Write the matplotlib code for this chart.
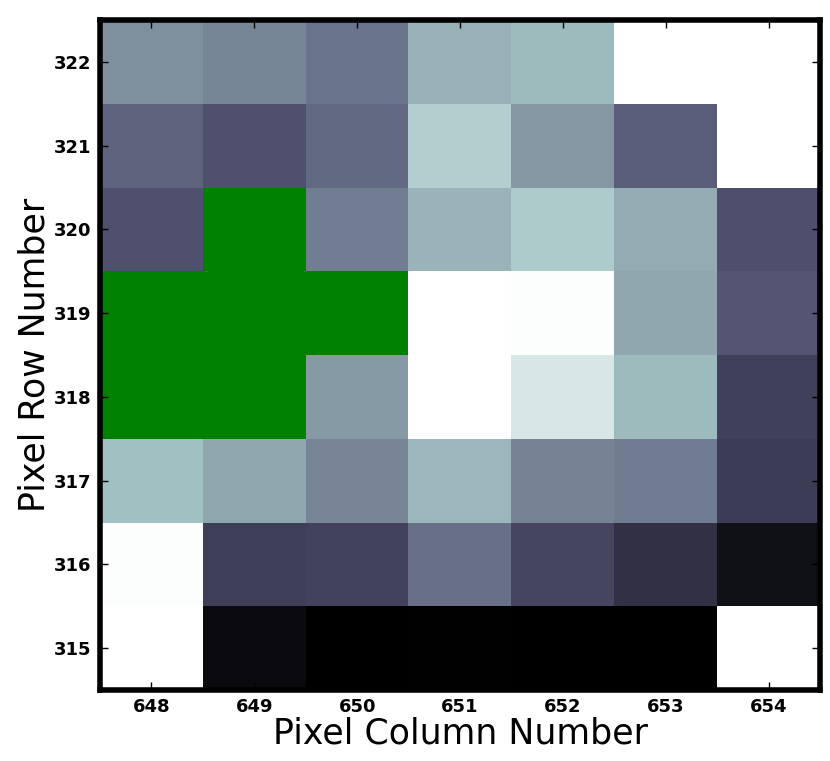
import numpy as np
import matplotlib
matplotlib.use("Agg")
import matplotlib.pyplot as plt

columns = [648, 649, 650, 651, 652, 653, 654]
rows = [315, 316, 317, 318, 319, 320, 321, 322]

# normalized flux per pixel (rows listed bottom 315 -> top 322); None = aperture pixel
flux_315 = [1.00, 0.049, 0.00, 0.01, 0.00, 0.00, 1.00]
flux_316 = [0.99, 0.278, 0.300, 0.466, 0.314, 0.219, 0.076]
flux_317 = [0.726, 0.641, 0.533, 0.699, 0.529, 0.506, 0.273]
flux_318 = [None, None, 0.605, 1.00, 0.888, 0.704, 0.291]
flux_319 = [None, None, None, 1.00, 0.99, 0.645, 0.376]
flux_320 = [0.358, None, 0.511, 0.686, 0.768, 0.663, 0.354]
flux_321 = [0.421, 0.358, 0.444, 0.785, 0.597, 0.403, 1.00]
flux_322 = [0.569, 0.538, 0.475, 0.677, 0.704, 1.00, 1.00]

grid = [flux_315, flux_316, flux_317, flux_318, flux_319, flux_320, flux_321, flux_322]
data = np.array([[np.nan if v is None else v for v in r] for r in grid], dtype=float)
data = np.ma.masked_invalid(data)

cmap = plt.get_cmap("bone").copy()
cmap.set_bad("#008000")

fig = plt.figure(figsize=(8.3, 7.61), dpi=100)
ax = fig.add_axes([100/830, 1 - 690/761, 720/830, 670/761])
ax.imshow(data, cmap=cmap, vmin=0, vmax=1, origin="lower", aspect="auto",
          interpolation="nearest",
          extent=[columns[0] - 0.5, columns[-1] + 0.5, rows[0] - 0.5, rows[-1] + 0.5])

ax.set_xticks(columns)
ax.set_yticks(rows)
ax.set_xticklabels([str(c) for c in columns])
ax.set_yticklabels([str(r) for r in rows])
ax.tick_params(direction="in", top=True, right=True, length=6, width=1,
               labelsize=13, pad=6)
for lab in ax.get_xticklabels() + ax.get_yticklabels():
    lab.set_fontweight("bold")
for s in ax.spines.values():
    s.set_linewidth(4)

ax.set_xlabel("Pixel Column Number", fontsize=25, labelpad=0)
ax.set_ylabel("Pixel Row Number", fontsize=25, labelpad=2)

fig.savefig("out.png", dpi=100)
